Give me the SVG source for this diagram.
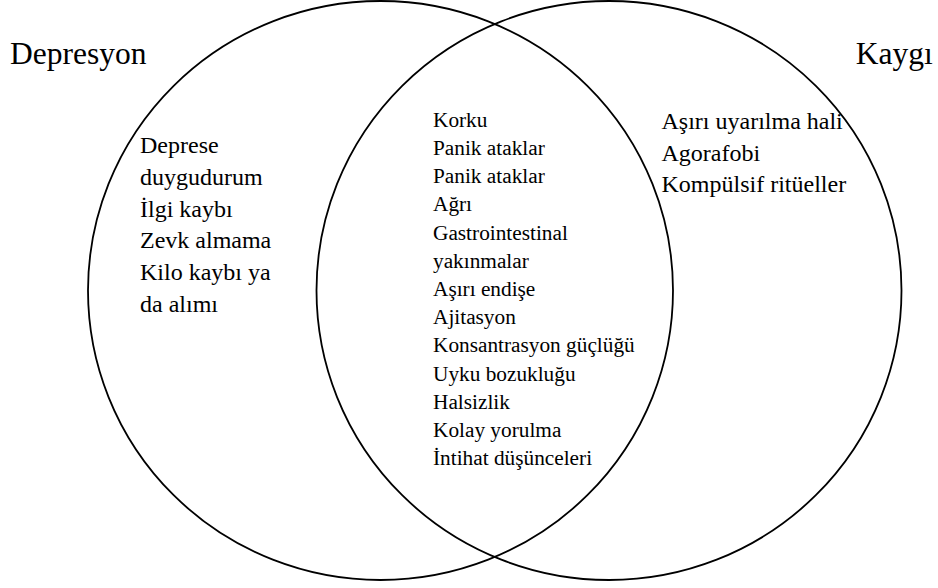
<svg xmlns="http://www.w3.org/2000/svg" width="938" height="588" viewBox="0 0 938 588" font-family="'Liberation Serif', 'DejaVu Serif', serif">
  <style>
    .set { fill: none; stroke: #000; stroke-width: 1.8; }
    text { font-family: 'Liberation Serif', 'DejaVu Serif', serif; fill: #000; }
    .title { font-size: 31.5px; }
    .item { font-size: 24px; }
    .mid { font-size: 21.3px; }
  </style>
  <rect width="938" height="588" fill="#fff"/>
  <g id="set-depresyon">
    <ellipse class="set" cx="380.5" cy="290.5" rx="292.5" ry="289.5"/>
    <text class="title" x="10" y="64.3">Depresyon</text>
    <text class="item" x="140" y="152.5">Deprese</text>
    <text class="item" x="140" y="184.5">duygudurum</text>
    <text class="item" x="140" y="216.5">İlgi kaybı</text>
    <text class="item" x="140" y="248.3">Zevk almama</text>
    <text class="item" x="140" y="280">Kilo kaybı ya</text>
    <text class="item" x="140" y="311.7">da alımı</text>
  </g>
  <g id="set-kaygi">
    <ellipse class="set" cx="609" cy="290.5" rx="292.5" ry="289.5"/>
    <text class="title" x="855.7" y="63.8">Kaygı</text>
    <text class="item" x="661.5" y="129.3">Aşırı uyarılma hali</text>
    <text class="item" x="661.5" y="160.5">Agorafobi</text>
    <text class="item" x="661.5" y="191.7">Kompülsif ritüeller</text>
  </g>
  <g id="overlap">
    <text class="mid" x="433" y="126.7">Korku</text>
    <text class="mid" x="433" y="154.9">Panik ataklar</text>
    <text class="mid" x="433" y="183.1">Panik ataklar</text>
    <text class="mid" x="433" y="211.3">Ağrı</text>
    <text class="mid" x="433" y="239.5">Gastrointestinal</text>
    <text class="mid" x="433" y="267.7">yakınmalar</text>
    <text class="mid" x="433" y="295.9">Aşırı endişe</text>
    <text class="mid" x="433" y="324.1">Ajitasyon</text>
    <text class="mid" x="433" y="352.3">Konsantrasyon güçlüğü</text>
    <text class="mid" x="433" y="380.5">Uyku bozukluğu</text>
    <text class="mid" x="433" y="408.7">Halsizlik</text>
    <text class="mid" x="433" y="436.9">Kolay yorulma</text>
    <text class="mid" x="433" y="465.1">İntihat düşünceleri</text>
  </g>
  <g id="connectors"/>
</svg>
